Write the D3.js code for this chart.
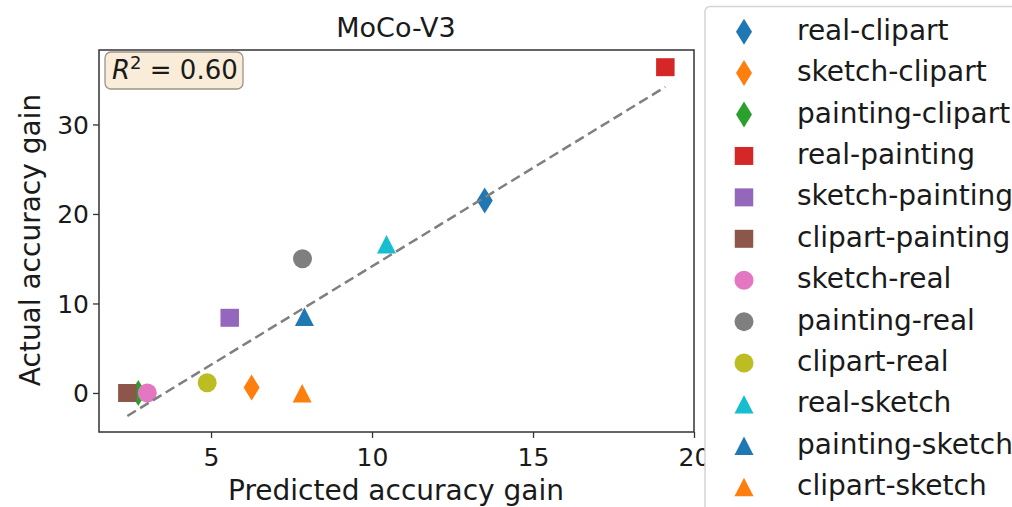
<!DOCTYPE html>
<html>
<head>
<meta charset="utf-8">
<script src="https://cdn.jsdelivr.net/npm/d3@7"></script>
<style>
  body { margin: 0; background: #fff; }
  svg text { font-family: "DejaVu Sans", sans-serif; fill: #1a1a1a; }
</style>
</head>
<body>
<svg width="1012" height="507"></svg>
<script>
// pairs (source-target), predicted vs actual accuracy gain
var pairs = ["real-clipart", "sketch-clipart", "painting-clipart",
             "real-painting", "sketch-painting", "clipart-painting",
             "sketch-real", "painting-real", "clipart-real",
             "real-sketch", "painting-sketch", "clipart-sketch"];
var predicted = [13.5, 6.26, 2.74, 19.11, 5.58, 2.40, 3.02, 7.84, 4.88, 10.45, 7.90, 7.83];
var actual    = [21.5, 0.6, 0.0, 36.4, 8.4, 0.0, 0.0, 15.0, 1.15, 16.6, 8.5, -0.05];
var shapes    = ["diamond", "diamond", "diamond", "square", "square", "square",
                 "circle", "circle", "circle", "triangle", "triangle", "triangle"];
var colors    = ["#1f77b4", "#ff7f0e", "#2ca02c", "#d62728", "#9467bd", "#8c564b",
                 "#e377c2", "#7f7f7f", "#bcbd22", "#17becf", "#1f77b4", "#ff7f0e"];
var xTicks = [5, 10, 15, 20];
var yTicks = [0, 10, 20, 30];
// fitted line
var fitSlope = 2.2, fitIntercept = -7.85;
var r2Text = "0.60";

var svg = d3.select("svg");

var x = d3.scaleLinear().domain([1.52, 20]).range([99, 694]);
var y = d3.scaleLinear().domain([-4.36, 38.32]).range([432, 50]);

function markerPath(shape) {
    var p = d3.path();
    if (shape == "square") {
        p.rect(-9.25, -9, 18.5, 18);
    } else if (shape == "circle") {
        p.arc(0, 0, 9.5, 0, Math.PI * 2);
    } else if (shape == "triangle") {
        p.moveTo(0, -9.5); p.lineTo(9.5, 9); p.lineTo(-9.5, 9); p.closePath();
    } else {
        p.moveTo(0, -13); p.lineTo(8, 0); p.lineTo(0, 13); p.lineTo(-8, 0); p.closePath();
    }
    return p.toString();
}

// title
svg.append("text")
    .attr("x", 396).attr("y", 37)
    .attr("text-anchor", "middle")
    .style("font-size", "27px")
    .text("MoCo-V3");

// axes
var xAxis = svg.append("g")
    .attr("transform", "translate(0,432)")
    .call(d3.axisBottom(x).tickValues(xTicks).tickSize(6).tickPadding(5).tickFormat(d3.format("d")));
var yAxis = svg.append("g")
    .attr("transform", "translate(99,0)")
    .call(d3.axisLeft(y).tickValues(yTicks).tickSize(6).tickPadding(4).tickFormat(d3.format("d")));
[xAxis, yAxis].forEach(function(a) {
    a.select(".domain").remove();
    a.selectAll("line").attr("stroke", "#333").attr("stroke-width", 1.3);
    a.selectAll("text").style("font-size", "25px").attr("fill", "#1a1a1a");
});
xAxis.selectAll("text").attr("dy", "0.9em");
yAxis.selectAll("text").attr("dy", "0.36em");

// frame
svg.append("rect")
    .attr("x", 99).attr("y", 50)
    .attr("width", 694 - 99).attr("height", 432 - 50)
    .attr("fill", "none").attr("stroke", "#333").attr("stroke-width", 1.5);

// labels
svg.append("text")
    .attr("x", 396).attr("y", 500)
    .attr("text-anchor", "middle")
    .style("font-size", "28px")
    .text("Predicted accuracy gain");
svg.append("text")
    .attr("transform", "translate(40,240) rotate(-90)")
    .attr("text-anchor", "middle")
    .style("font-size", "28px")
    .text("Actual accuracy gain");

// points
svg.append("g").selectAll("path")
    .data(pairs)
    .join("path")
    .attr("d", function(d, i) { return markerPath(shapes[i]); })
    .attr("transform", function(d, i) { return "translate(" + x(predicted[i]) + "," + y(actual[i]) + ")"; })
    .attr("fill", function(d, i) { return colors[i]; });

// regression line
var xmin = d3.min(predicted), xmax = d3.max(predicted);
svg.append("line")
    .attr("x1", x(xmin)).attr("y1", y(fitSlope * xmin + fitIntercept))
    .attr("x2", x(xmax)).attr("y2", y(fitSlope * xmax + fitIntercept))
    .attr("stroke", "#7f7f7f").attr("stroke-width", 2.5)
    .attr("stroke-dasharray", "10,5");

// R^2 box
svg.append("rect")
    .attr("x", 105).attr("y", 52)
    .attr("width", 138).attr("height", 37).attr("rx", 6)
    .attr("fill", "#f9ecd8").attr("stroke", "#9c958a").attr("stroke-width", 1.3);
var r2 = svg.append("text")
    .attr("x", 112).attr("y", 79)
    .style("font-size", "26px");
r2.append("tspan").style("font-style", "italic").text("R");
r2.append("tspan").attr("dy", -10).style("font-size", "18px").text("2");
r2.append("tspan").attr("dy", 10).text(" = " + r2Text);

// legend
svg.append("rect")
    .attr("x", 705).attr("y", 6.5)
    .attr("width", 330).attr("height", 520).attr("rx", 5)
    .attr("fill", "#fff").attr("stroke", "#d4d4d4").attr("stroke-width", 1.5);
var legend = svg.append("g").selectAll("g")
    .data(pairs)
    .join("g")
    .attr("transform", function(d, i) { return "translate(744," + (31.7 + i * 41.42) + ")"; });
legend.append("path")
    .attr("d", function(d, i) { return markerPath(shapes[i]); })
    .attr("fill", function(d, i) { return colors[i]; });
legend.append("text")
    .attr("x", 53).attr("y", 8)
    .style("font-size", "28px")
    .text(function(d) { return d; });
</script>
</body>
</html>
